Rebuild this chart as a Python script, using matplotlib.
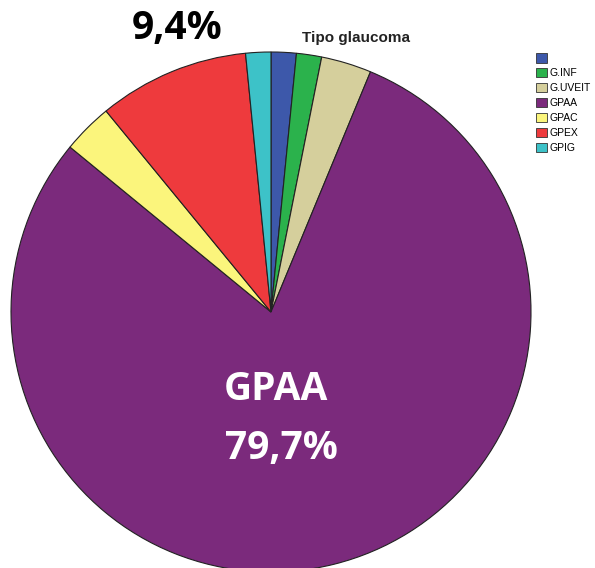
import matplotlib
matplotlib.use("Agg")
import matplotlib.pyplot as plt
import matplotlib.patches as patches

labels = ["", "G.INF", "G.UVEIT", "GPAA", "GPAC", "GPEX", "GPIG"]
counts = [1, 1, 2, 51, 2, 6, 1]
colors = ["#3d58aa", "#2bb24c", "#d5cf9c", "#7b2a7c", "#fbf57c", "#ee3a3d", "#3dc2c8"]

W, H = 595, 568
fig = plt.figure(figsize=(W / 100, H / 100), dpi=100)

# pie centre and radius in pixels
cx, cy, r = 271, 312, 260
ax = fig.add_axes([(cx - r) / W, (H - cy - r) / H, 2 * r / W, 2 * r / H])
ax.pie(counts, colors=colors, startangle=90, counterclock=False,
       wedgeprops=dict(edgecolor="#222222", linewidth=0.8))
ax.set_xlim(-1, 1)
ax.set_ylim(-1, 1)
ax.axis("off")

fig.text(356 / W, 1 - 38 / H, "Tipo glaucoma", fontsize=11, ha="center", va="center",
         family="Liberation Sans", fontweight="bold", color="#222222")
fig.text(177 / W, 1 - 29 / H, "9,4%", fontsize=28, ha="center", va="center",
         family="Open Sans", fontweight="bold", color="black")
fig.text(276 / W, 1 - 390 / H, "GPAA", fontsize=28, ha="center", va="center",
         family="Open Sans", fontweight="bold", color="white")
fig.text(281 / W, 1 - 449 / H, "79,7%", fontsize=28, ha="center", va="center",
         family="Open Sans", fontweight="bold", color="white")

handles = [patches.Rectangle((0, 0), 1, 1, facecolor=c, edgecolor="#333333", linewidth=0.6)
           for c in colors]
fig.legend(handles, labels, loc="upper left", bbox_to_anchor=(531 / W, 1 - 48 / H),
           frameon=False, handlelength=1.0, handleheight=1.0,
           handletextpad=0.3, labelspacing=0.45, borderpad=0,
           prop=dict(family="Liberation Sans", size=7.5))

fig.savefig("out.png", dpi=100)
